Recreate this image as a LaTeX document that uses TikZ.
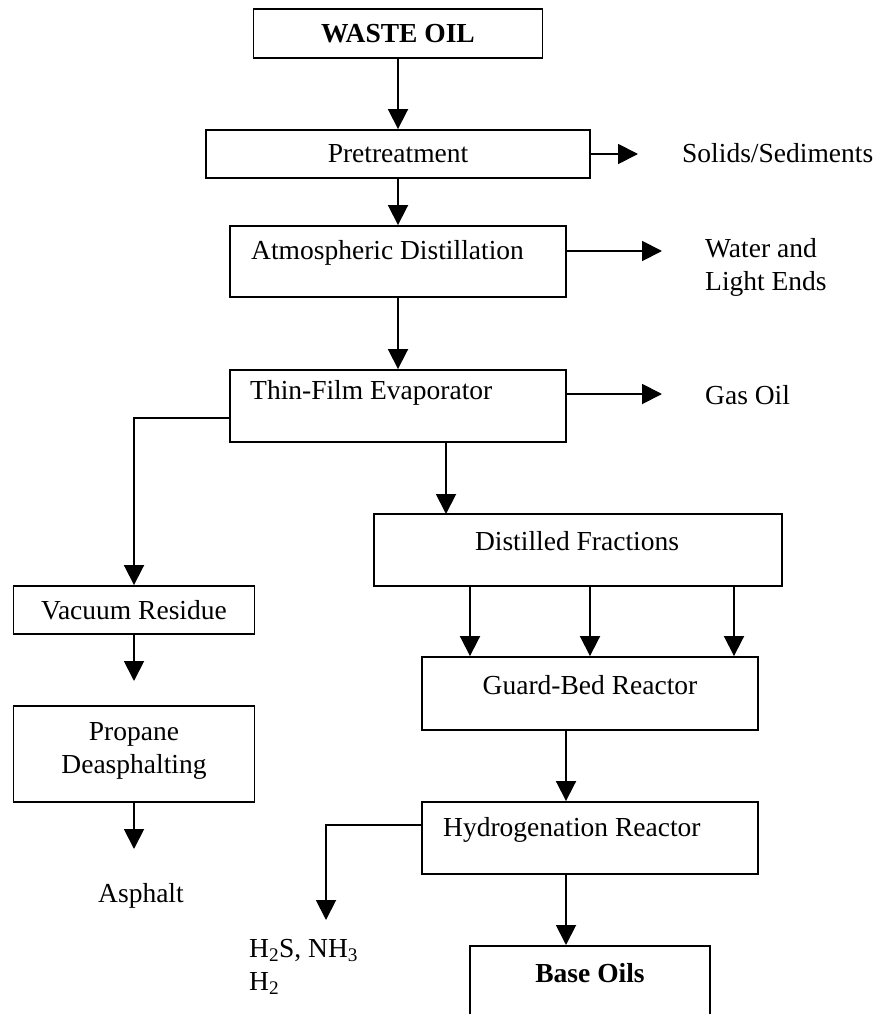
\documentclass[tikz,border=0pt]{standalone}
\usepackage{fontspec}
\setmainfont{Liberation Serif}
\usetikzlibrary{arrows.meta}
\begin{document}
\begin{tikzpicture}[x=1pt,y=-1pt,
  every node/.style={inner sep=0pt,font=\fontsize{27.5}{33}\selectfont},
  box/.style={draw,line width=1.9pt,inner sep=0pt},
  bold/.style={font=\fontsize{27.5}{33}\selectfont\bfseries},
  arr/.style={line width=1.9pt,-{Triangle[length=20pt,width=20pt]}}]
\clip (0,0) rectangle (877,1014);
% boxes
\node[box,bold,minimum width=289pt,minimum height=49pt] (waste) at (398,33.5) {WASTE OIL};
\node[box,minimum width=384pt,minimum height=48pt] (pre) at (398,154) {Pretreatment};
\node[box,minimum width=336pt,minimum height=71pt] (atm) at (398,261.5) {};
\node[anchor=west] (atmt) at (251,253) {Atmospheric Distillation};
\node[box,minimum width=336pt,minimum height=72pt] (thin) at (398,406) {};
\node[anchor=west] (thint) at (250,393) {Thin-Film Evaporator};
\node[box,minimum width=408pt,minimum height=72pt] (dist) at (578,550) {};
\node (distt) at (577,541) {Distilled Fractions};
\node[box,minimum width=241pt,minimum height=48pt] (vac) at (134,610) {Vacuum Residue};
\node[box,minimum width=241pt,minimum height=96pt] (prop) at (134,754) {};
\node[align=center] (propt) at (134,751) {Propane\\Deasphalting};
\node[box,minimum width=336pt,minimum height=73pt] (guard) at (590,693.5) {};
\node (guardt) at (590,685) {Guard-Bed Reactor};
\node[box,minimum width=336pt,minimum height=72pt] (hyd) at (590,838) {};
\node[anchor=west] (hydt) at (443,830) {Hydrogenation Reactor};
\node[box,minimum width=240pt,minimum height=110pt,anchor=north] (base) at (590,945) {};
\node[bold] (baset) at (590,973) {Base Oils};
% outlet labels
\node[anchor=west] (solids) at (682,153) {Solids/Sediments};
\node[anchor=west,align=left] (water) at (705,267.5) {Water and\\Light Ends};
\node[anchor=west] (gas) at (705,395) {Gas Oil};
\node (asph) at (141,896) {Asphalt};
\node[anchor=west,align=left] (h2s) at (249,967) {H\textsubscript{2}S, NH\textsubscript{3}\\H\textsubscript{2}};
% free ends and bends
\coordinate (solidsend) at (638,154);
\coordinate (waterend) at (662,251);
\coordinate (gasend) at (662,394);
\coordinate (vturn) at (134,418);
\coordinate (vacend) at (134,681);
\coordinate (asphend) at (134,849);
\coordinate (hturn) at (326,825);
\coordinate (h2end) at (326,920);
\coordinate (distin) at (446,514);
\coordinate (mainx) at (566,0);
% connectors
\draw[arr] (waste.south) -- (pre.north);
\draw[arr] (pre.east) -- (solidsend);
\draw[arr] (pre.south) -- (atm.north);
\draw[arr] (atm.east |- waterend) -- (waterend);
\draw[arr] (atm.south) -- (thin.north);
\draw[arr] (thin.east |- gasend) -- (gasend);
\draw[arr] (thin.west |- vturn) -- (vturn) -- (vac.north);
\draw[arr] (thin.south -| distin) -- (distin);
\foreach \xx in {470,590,734} {
  \draw[arr] (dist.south -| \xx,0) -- (guard.north -| \xx,0);
}
\draw[arr] (guard.south -| mainx) -- (hyd.north -| mainx);
\draw[arr] (hyd.west |- hturn) -- (hturn) -- (h2end);
\draw[arr] (hyd.south -| mainx) -- (base.north -| mainx);
\draw[arr] (vac.south) -- (vacend);
\draw[arr] (prop.south) -- (asphend);
\end{tikzpicture}
\end{document}
